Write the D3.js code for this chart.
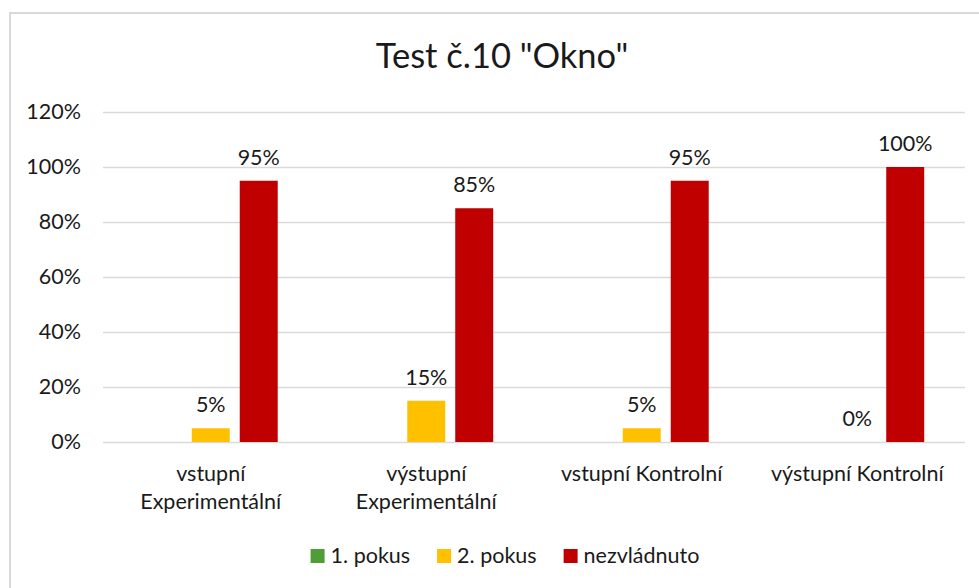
<!DOCTYPE html>
<html>
<head>
<meta charset="utf-8">
<script src="https://cdn.jsdelivr.net/npm/d3@7"></script>
<style>
  body { margin: 0; background: #fff; }
  text { font-family: Lato, "Open Sans", sans-serif; fill: #1a1a1a; }
</style>
</head>
<body>
<div id="chart"></div>
<script>
"use strict";

const categories = [
  ["vstupní", "Experimentální"],
  ["výstupní", "Experimentální"],
  ["vstupní Kontrolní"],
  ["výstupní Kontrolní"],
];
const seriesNames = ["1. pokus", "2. pokus", "nezvládnuto"];
const pokus1 = [0, 0, 0, 0];
const pokus2 = [0.05, 0.15, 0.05, 0];
const nezvladnuto = [0.95, 0.85, 0.95, 1.0];
const showLabels = [false, true, true];
const yTicks = [0, 0.2, 0.4, 0.6, 0.8, 1.0, 1.2];
const colors = ["#4e9e37", "#ffc000", "#c00000"];

const W = 979;
const H = 588;
const plotLeft = 103;
const plotRight = 965;
const plotTop = 112;
const plotBottom = 442;
const fs = "21.5px";

const values = [pokus1, pokus2, nezvladnuto];

const svg = d3
  .select("#chart")
  .append("svg")
  .attr("width", W)
  .attr("height", H);

// chart border
svg
  .append("rect")
  .attr("x", 10)
  .attr("y", 13)
  .attr("width", 990)
  .attr("height", 600)
  .attr("fill", "none")
  .attr("stroke", "#d9d9d9")
  .attr("stroke-width", 2);

svg
  .append("text")
  .attr("x", 502)
  .attr("y", 68)
  .attr("text-anchor", "middle")
  .attr("font-size", "34.5px")
  .text('Test č.10 "Okno"');

const x0 = d3
  .scaleBand()
  .domain(d3.range(categories.length))
  .range([plotLeft, plotRight]);

const x1 = d3
  .scaleBand()
  .domain(d3.range(seriesNames.length))
  .range([0, x0.bandwidth()])
  .paddingInner(10 / 48)
  .paddingOuter(0.85);

const y = d3.scaleLinear().domain([0, 1.2]).range([plotBottom, plotTop]);

// gridlines + y labels
const yAxis = d3
  .axisLeft(y)
  .tickValues(yTicks)
  .tickFormat(d3.format(".0%"))
  .tickSize(-(plotRight - plotLeft))
  .tickPadding(22);

const gy = svg
  .append("g")
  .attr("transform", `translate(${plotLeft},0)`)
  .call(yAxis);
gy.select(".domain").remove();
gy.selectAll(".tick line").attr("stroke", "#d9d9d9").attr("stroke-width", 1.5);
gy.selectAll(".tick text")
  .attr("font-size", fs)
  .attr("fill", "#1a1a1a")
  .style("font-family", "Lato, sans-serif");

// bars
values.forEach((vals, s) => {
  svg
    .append("g")
    .selectAll("rect")
    .data(vals)
    .enter()
    .append("rect")
    .attr("x", (d, i) => x0(i) + x1(s))
    .attr("y", (d) => y(d))
    .attr("width", x1.bandwidth())
    .attr("height", (d) => plotBottom - y(d))
    .attr("fill", colors[s]);

  if (showLabels[s]) {
    svg
      .append("g")
      .selectAll("text")
      .data(vals)
      .enter()
      .append("text")
      .attr("x", (d, i) => x0(i) + x1(s) + x1.bandwidth() / 2)
      .attr("y", (d) => y(d) - 16)
      .attr("text-anchor", "middle")
      .attr("font-size", fs)
      .text((d) => d3.format(".0%")(d));
  }
});

// category labels
const cat = svg
  .append("g")
  .selectAll("text")
  .data(categories)
  .enter()
  .append("text")
  .attr("x", (d, i) => x0(i) + x0.bandwidth() / 2)
  .attr("y", 481)
  .attr("text-anchor", "middle")
  .attr("font-size", fs);
cat
  .selectAll("tspan")
  .data((d) => d)
  .enter()
  .append("tspan")
  .attr("x", function () {
    return d3.select(this.parentNode).attr("x");
  })
  .attr("dy", (d, i) => (i === 0 ? 0 : 28))
  .text((d) => d);

// legend
const legend = svg.append("g");
let lx = 0;
seriesNames.forEach((name, s) => {
  const item = legend.append("g").attr("transform", `translate(${lx},0)`);
  item
    .append("rect")
    .attr("x", 0)
    .attr("y", 549)
    .attr("width", 14)
    .attr("height", 14)
    .attr("fill", colors[s]);
  const t = item
    .append("text")
    .attr("x", 20)
    .attr("y", 563)
    .attr("font-size", fs)
    .text(name);
  lx += 20 + t.node().getComputedTextLength() + 27;
});
const legendW = lx - 27;
legend.attr("transform", `translate(${505 - legendW / 2},0)`);
</script>
</body>
</html>
